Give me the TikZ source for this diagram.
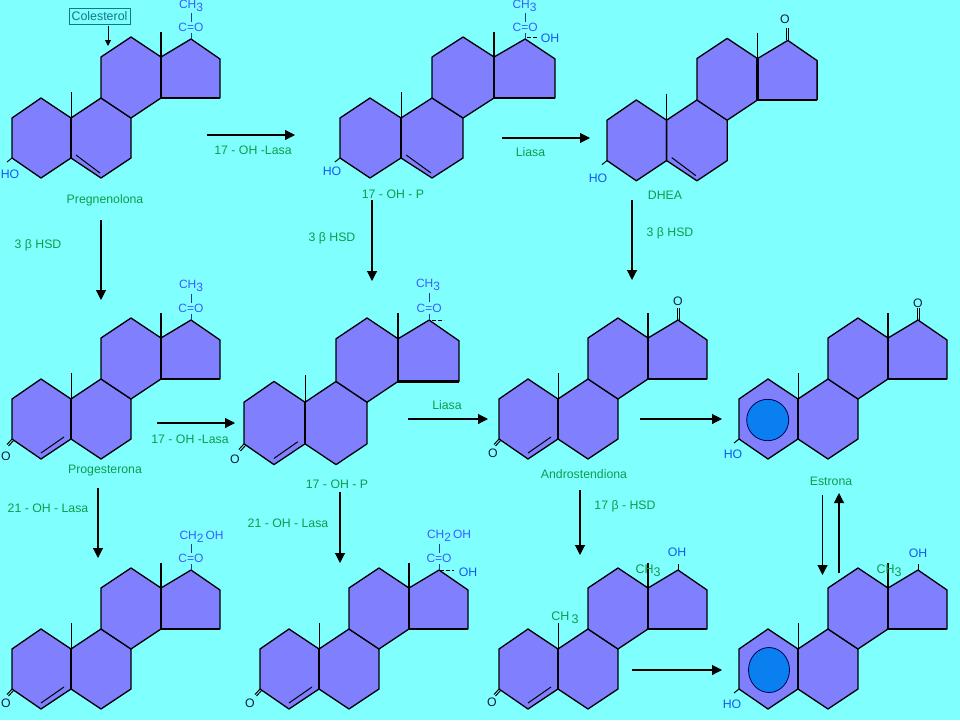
\documentclass[tikz,border=0pt]{standalone}
\usepackage{fontspec}
\setmainfont{Liberation Sans}
\usetikzlibrary{arrows.meta}
\definecolor{bgc}{HTML}{80FFFF}
\definecolor{ringc}{HTML}{8080FF}
\definecolor{labgreen}{HTML}{109A4A}
\definecolor{chemblue}{HTML}{3A5CFF}
\definecolor{ohblue}{HTML}{1458F0}
\definecolor{aromc}{HTML}{0A80F0}
\definecolor{boxc}{HTML}{107888}
\tikzset{
  ringline/.style={draw=black,fill=ringc,line width=1.3pt,line join=round},
  bond/.style={draw=black,line width=1pt},
  heavy/.style={draw=black,line width=2.2pt},
  chembond/.style={draw=chemblue!60!black,line width=0.9pt},
  lab/.style={text=labgreen,font=\fontsize{12.3}{14}\selectfont,inner sep=0pt},
  chem/.style={text=chemblue,font=\fontsize{12}{15}\selectfont,inner sep=0pt},
  oh/.style={text=ohblue,font=\fontsize{12.3}{14}\selectfont,inner sep=0pt},
  kO/.style={text=black!70!chemblue,font=\fontsize{12.3}{14}\selectfont,inner sep=0pt},
  grn/.style={text=labgreen,font=\fontsize{12.5}{15}\selectfont,inner sep=0pt},
  arrowline/.style={draw=black,line width=1.1pt,-{Triangle[length=10pt,width=10pt]}},
  smallarrow/.style={draw=black,line width=1pt,-{Triangle[length=6pt,width=6pt]}},
  colbox/.style={draw=boxc,line width=0.9pt,fill=bgc,text=boxc,font=\fontsize{12.4}{14}\selectfont,inner sep=1pt,minimum width=61pt,minimum height=16pt},
  sidedash/.style={draw=black,line width=0.8pt,dash pattern=on 4pt off 2pt},
  aromring/.style={draw=black!70!blue,line width=0.8pt,fill=aromc}
}
% steroid skeleton in template pixel coordinates
\newcommand{\steroid}[5]{%
\begin{scope}[shift={(#1,#2)},xscale=#3,yscale=#4]
\path[ringline] (12,118) -- (41,98) -- (71,118) -- (71,158) -- (41,178) -- (12,158) -- cycle;
\path[ringline] (71,118) -- (101,98) -- (131,118) -- (131,158) -- (101,178) -- (71,158) -- cycle;
\path[ringline] (101,98) -- (101,57) -- (131,37) -- (161,57) -- (161,98) -- (131,118) -- cycle;
\path[ringline] (161,57) -- (191,39) -- (220,59) -- (220,98) -- (161,98) -- cycle;
\path[heavy] (161,57) -- (161,98) -- (220,98);
\path[bond] (71,118) -- (71,92);
\path[bond,line width=1.3pt] (161,57) -- (161,32);
\path[bond,line width=1.5pt] (71,118) -- (71,158);
#5
\end{scope}}
\newcommand{\dblB}{\path[bond] (76,155) -- (100,173);}
\newcommand{\dblA}{\path[bond] (41,172) -- (64,156);}
\newcommand{\hydroxyl}{\path[bond] (12,158) -- (7,162);}
\newcommand{\oxoA}{\path[bond] (12,158) -- (7,163.5); \path[bond] (13.5,159.5) -- (8.5,165);}
\newcommand{\oxoD}{\path[bond] (190,39) -- (190,27); \path[bond] (192,39) -- (192,27);}
\newcommand{\sidechain}{\path[chembond] (191,13) -- (191,22); \path[chembond] (191,33) -- (191,39);
  \node[chem] at (191,27.5) {C=O};}
\newcommand{\hydroxD}{\path[bond] (191,39) -- (191,33);}
\newcommand{\subs}[1]{\raisebox{-3pt}{#1}}
\begin{document}
\begin{tikzpicture}[x=1pt,y=-1pt]
\useasboundingbox (0,0) rectangle (960,720);
\fill[bgc] (0,0) rectangle (960,720);

% molecules
\steroid{0}{0}{1}{1}{\dblB\hydroxyl\sidechain}
\steroid{327.6}{0}{1.034}{1}{\dblB\hydroxyl\sidechain}
\steroid{594.9}{1}{1.01}{1.01}{\dblB\hydroxyl\oxoD}
\steroid{0}{281}{1}{1}{\dblA\oxoA\sidechain}
\steroid{231.6}{279.5}{1.034}{1.04}{\dblA\oxoA\sidechain}
\steroid{487}{281}{1}{1}{\dblA\oxoA\oxoD}
\steroid{727}{281}{1}{1}{\hydroxyl\oxoD}
\steroid{0}{531}{1}{1}{\dblA\oxoA\sidechain}
\steroid{248}{531}{1}{1}{\dblA\oxoA\sidechain}
\steroid{487}{531}{1}{1}{\dblA\oxoA\hydroxD}
\steroid{727}{531}{1}{1}{\hydroxyl\hydroxD}

% aromatic rings
\path[aromring] (767.7,420) ellipse [x radius=21,y radius=20.7];
\path[aromring] (769,670) ellipse [x radius=20.5,y radius=22.5];

% side-chain texts
\node[chem] (ch3a) at (191,6) {CH\subs{3}};
\node[chem] (ch3b) at (524.5,6) {CH\subs{3}};
\node[chem] (ch3c) at (191,286) {CH\subs{3}};
\node[chem] (ch3d) at (428,285) {CH\subs{3}};
\node[chem] (ch2a) at (201.5,537) {CH\subs{2}\,OH};
\node[chem] (ch2b) at (449,536) {CH\subs{2}\,OH};
\node[oh] (oh2) at (550,38.5) {OH};
\node[oh] (oh9) at (468,572) {OH};
\node[oh] (oh10) at (677,552) {OH};
\node[oh] (oh11) at (918,553) {OH};
\node[grn] (m10a) at (648,570.5) {CH\subs{3}};
\node[grn] (m10b) at (565,618) {CH\subs{\,3}};
\node[grn] (m11) at (889,570.5) {CH\subs{3}};
\path[sidedash] (527,37) -- (538,37);
\path[sidedash] (432,320) -- (444,320);
\path[sidedash] (440,570.5) -- (454,570.5);

% ring substituent atoms
\node[oh] (ho1) at (10,174) {HO};
\node[oh] (ho2) at (332,171) {HO};
\node[oh] (ho3) at (598,178) {HO};
\node[oh] (ho7) at (733,454) {HO};
\node[oh] (ho11) at (732,704) {HO};
\node[kO] (o4) at (6,456) {O};
\node[kO] (o5) at (235,459) {O};
\node[kO] (o6) at (493,453) {O};
\node[kO] (o8) at (6,703) {O};
\node[kO] (o9) at (250,703) {O};
\node[kO] (o10) at (492,702) {O};
\node[kO] (o3) at (785,19) {O};
\node[kO] (o6d) at (678,301.5) {O};
\node[kO] (o7d) at (918,303) {O};

% labels
\node[colbox] (col) at (99.5,16) {Colesterol};
\node[lab] (l1) at (105,200) {Pregnenolona};
\node[lab] (l2) at (393,194) {17 - OH - P};
\node[lab] (l3) at (665,195.5) {DHEA};
\node[lab] (l4) at (105,470.5) {Progesterona};
\node[lab] (l5) at (337,484) {17 - OH - P};
\node[lab] (l6) at (584,474.5) {Androstendiona};
\node[lab] (l7) at (831,481) {Estrona};
\node[lab] (e1) at (253,150) {17 - OH -Lasa};
\node[lab] (e2) at (530.5,152.5) {Liasa};
\node[lab] (e3) at (38,245) {3 β HSD};
\node[lab] (e4) at (332,238) {3 β HSD};
\node[lab] (e5) at (670,233) {3 β HSD};
\node[lab] (e6) at (190,439) {17 - OH -Lasa};
\node[lab] (e7) at (447,405) {Liasa};
\node[lab] (e8) at (48,508) {21 - OH - Lasa};
\node[lab] (e9) at (288,523) {21 - OH - Lasa};
\node[lab] (e10) at (625,506) {17 β - HSD};

% connector ends
\coordinate (a1s) at (108,26);  \coordinate (a1e) at (108,46);
\coordinate (a2s) at (207,135); \coordinate (a2e) at (295,135);
\coordinate (a3s) at (502,138); \coordinate (a3e) at (590,138);
\coordinate (a4s) at (101,220); \coordinate (a4e) at (101,300);
\coordinate (a5s) at (372,200); \coordinate (a5e) at (372,281);
\coordinate (a6s) at (632,200); \coordinate (a6e) at (632,280);
\coordinate (a7s) at (157,423); \coordinate (a7e) at (235,423);
\coordinate (a8s) at (408,419); \coordinate (a8e) at (488,419);
\coordinate (a9s) at (640,419); \coordinate (a9e) at (722,419);
\coordinate (a10s) at (98,488); \coordinate (a10e) at (98,558);
\coordinate (a11s) at (340,492); \coordinate (a11e) at (340,563);
\coordinate (a12s) at (580,490); \coordinate (a12e) at (580,555);
\coordinate (a13s) at (822.5,495); \coordinate (a13e) at (822.5,575);
\coordinate (a14s) at (839,573); \coordinate (a14e) at (839,493);
\coordinate (a15s) at (632,670); \coordinate (a15e) at (722,670);
\draw[smallarrow] (a1s) -- (a1e);
\foreach \n in {2,...,15} {\draw[arrowline] (a\n s) -- (a\n e);}
\end{tikzpicture}
\end{document}
